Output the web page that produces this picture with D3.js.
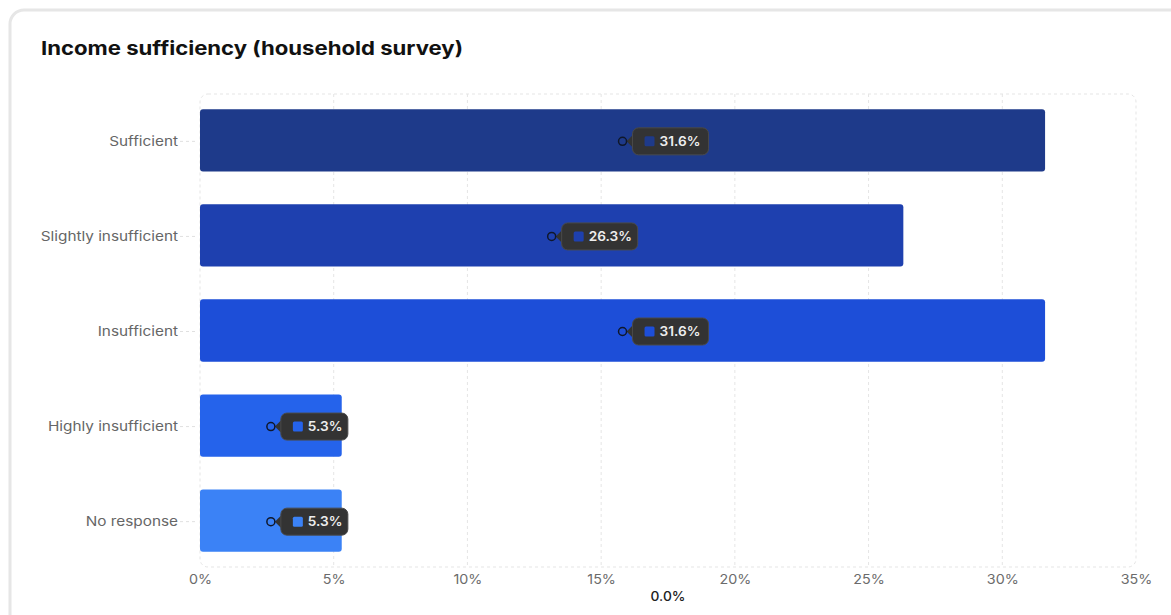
<!DOCTYPE html>
<html>
<head>
<meta charset="utf-8">
<script src="https://cdn.jsdelivr.net/npm/d3@7"></script>
<style>
  html, body { margin: 0; padding: 0; background: #fff; }
  body { width: 1171px; height: 615px; overflow: hidden; font-family: Inter, "Noto Sans", sans-serif; }
  svg { display: block; }
</style>
</head>
<body>
<svg id="chart" width="1171" height="615"></svg>
<script>
const categories = ["Sufficient", "Slightly insufficient", "Insufficient", "Highly insufficient", "No response"];
const values = [31.6, 26.3, 31.6, 5.3, 5.3];
const barColors = ["#1e3a8a", "#1e40af", "#1d4ed8", "#2563eb", "#3b82f6"];
const xTicks = [0, 5, 10, 15, 20, 25, 30, 35];
const titleText = "Income sufficiency (household survey)";
const xAxisTitle = "0.0%";

const svg = d3.select("#chart");
const W = 1171, H = 615;

// card
svg.append("rect")
  .attr("x", 10).attr("y", 10).attr("width", W + 20).attr("height", H + 20)
  .attr("rx", 14).attr("fill", "#fff")
  .attr("stroke", "#e6e6e6").attr("stroke-width", 3);

svg.append("text")
  .attr("transform", "translate(41,55) scale(1.165,1)")
  .attr("font-family", "Inter, sans-serif")
  .attr("font-size", 19).attr("font-weight", 700)
  .attr("fill", "#111")
  .text(titleText);

const m = { left: 200, right: 1136, top: 94, bottom: 567 };
const x = d3.scaleLinear().domain([0, 35]).range([m.left, m.right]);
const y = d3.scaleBand().domain(categories).range([m.top, m.bottom]).paddingInner(0.345).paddingOuter(0.16);

// grid
const grid = svg.append("g");
grid.append("rect")
  .attr("x", m.left).attr("y", m.top)
  .attr("width", m.right - m.left).attr("height", m.bottom - m.top)
  .attr("rx", 8).attr("fill", "none")
  .attr("stroke", "#e5e5e5").attr("stroke-dasharray", "3,3");
grid.selectAll("line.v").data(xTicks.slice(1, -1)).join("line")
  .attr("x1", d => x(d)).attr("x2", d => x(d))
  .attr("y1", m.top).attr("y2", m.bottom)
  .attr("stroke", "#e5e5e5").attr("stroke-dasharray", "3,3");

// x axis
const xAxis = svg.append("g").attr("transform", `translate(0,${m.bottom})`)
  .call(d3.axisBottom(x).tickValues(xTicks).tickFormat(d => d + "%").tickSize(0).tickPadding(8));
xAxis.select(".domain").remove();
xAxis.selectAll("text")
  .attr("font-family", "Inter, sans-serif").attr("font-size", 13).attr("fill", "#6b6b6b")
  .attr("transform", "scale(1.1,1)");

// y axis
const yAxis = svg.append("g").attr("transform", `translate(${m.left},0)`)
  .call(d3.axisLeft(y).tickSize(0).tickPadding(22));
yAxis.select(".domain").remove();
yAxis.selectAll(".tick").attr("transform", d => `translate(0,${y(d) + y.bandwidth() / 2 + 1})`);
yAxis.selectAll("text")
  .attr("font-family", "Inter, sans-serif").attr("font-size", 13).attr("fill", "#666")
  .attr("x", 0)
  .attr("transform", "translate(-22,0) scale(1.18,1)");
yAxis.selectAll(".tick").append("line")
  .attr("x1", -20).attr("x2", -2).attr("stroke", "#e0e0e0").attr("stroke-dasharray", "3,3");

svg.append("text")
  .attr("transform", `translate(${(m.left + m.right) / 2},601) scale(1.06,1)`)
  .attr("text-anchor", "middle")
  .attr("font-family", "Inter, sans-serif").attr("font-size", 13).attr("font-weight", 500)
  .attr("fill", "#222").text(xAxisTitle);

// bars
svg.append("g").selectAll("rect").data(categories).join("rect")
  .attr("x", x(0))
  .attr("y", d => y(d))
  .attr("width", (d, i) => x(values[i]) - x(0))
  .attr("height", y.bandwidth())
  .attr("rx", 3)
  .attr("fill", (d, i) => barColors[i]);

// tooltip labels
const tips = svg.append("g").selectAll("g").data(categories).join("g")
  .attr("transform", (d, i) => `translate(${x(values[i] / 2)},${y(d) + y.bandwidth() / 2 + 1})`);
tips.each(function(d, i) {
  const g = d3.select(this);
  const label = values[i].toFixed(1) + "%";
  const boxW = label.length > 4 ? 76 : 67;
  g.append("path")
    .attr("d", `M4,0 L12,-8 L12,8 Z`)
    .attr("fill", "#333");
  g.append("rect")
    .attr("x", 10).attr("y", -13.5).attr("width", boxW).attr("height", 27)
    .attr("rx", 6).attr("fill", "#333")
    .attr("stroke", "#4a4a4a").attr("stroke-width", 1);
  g.append("rect")
    .attr("x", 22).attr("y", -5).attr("width", 10).attr("height", 10)
    .attr("rx", 1.5).attr("fill", barColors[i]);
  g.append("text")
    .attr("transform", "translate(37,0) scale(1.05,1)")
    .attr("dy", "0.35em")
    .attr("font-family", "Inter, sans-serif").attr("font-size", 13).attr("font-weight", 600)
    .attr("fill", "#eee").text(label);
  g.append("circle")
    .attr("r", 4).attr("fill", "none")
    .attr("stroke", "#0f172a").attr("stroke-width", 1.5);
});
</script>
</body>
</html>
